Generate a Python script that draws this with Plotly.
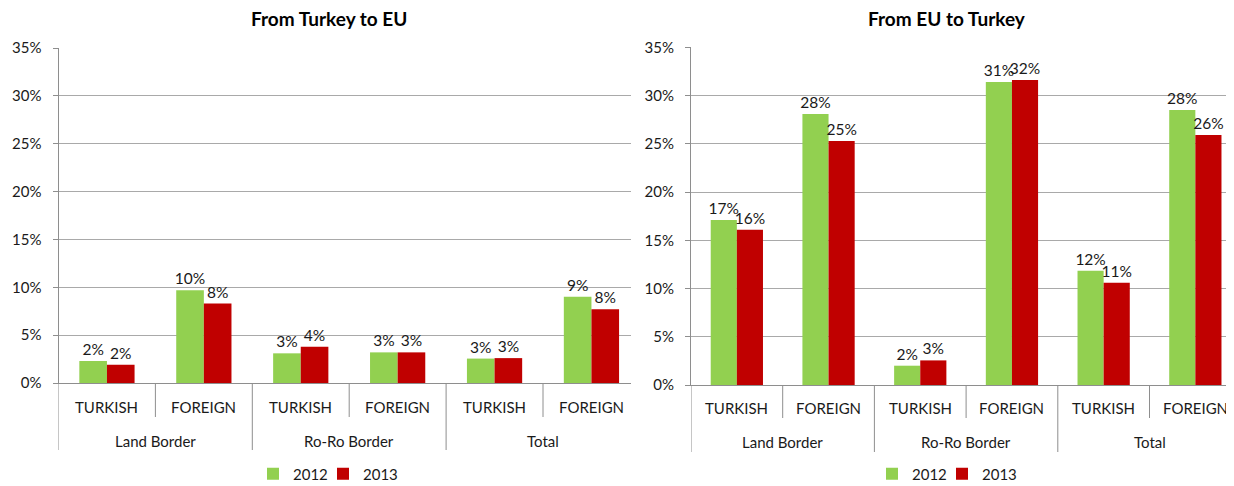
import plotly.graph_objects as go

# ---- data ----
groups = ["Land Border", "Ro-Ro Border", "Total"]
subcats = ["TURKISH", "FOREIGN"]
years = ["2012", "2013"]
titles = ["From Turkey to EU", "From EU to Turkey"]

tr_to_eu_2012 = [0.023, 0.097, 0.031, 0.032, 0.0255, 0.090]
tr_to_eu_2013 = [0.019, 0.083, 0.038, 0.032, 0.026, 0.077]
eu_to_tr_2012 = [0.171, 0.281, 0.020, 0.314, 0.1185, 0.285]
eu_to_tr_2013 = [0.161, 0.253, 0.0255, 0.316, 0.106, 0.259]

series = [[tr_to_eu_2012, tr_to_eu_2013], [eu_to_tr_2012, eu_to_tr_2013]]
colors = ["#92D050", "#C00000"]

OFF = 8  # page body margin
W, H = 1234 - OFF, 486 - OFF
FONT = "Lato"
TXT = "#1a1a1a"
GRID = "#a9a9a9"
AXIS = "#8e8e8e"


def px_x(p):
    return (p - OFF) / W


def px_y(p):
    return 1 - (p - OFF) / H


cats = [f"{g}|{s}" for g in groups for s in subcats]
xs = list(range(len(cats)))

# per-panel geometry (page pixels)
panels = [
    dict(x0=58.5, x1=631, catw=96.9, ytop=48, ybot=383, lab=407, grp=441, sep_short=417, sep_long=450,
         title_x=328.5, leg_pairs=[297, 367]),
    dict(x0=691, x1=1234, catw=91.7, ytop=47.3, ybot=385, lab=408, grp=442, sep_short=418, sep_long=452,
         title_x=946.5, leg_pairs=[916, 986]),
]

fig = go.Figure()
shapes = []
annotations = []
layout = {}
leg_n = 0

for i, p in enumerate(panels):
    sfx = "" if i == 0 else str(i + 1)
    xa, ya = "x" + sfx, "y" + sfx
    for j, yr in enumerate(years):
        leg_n += 1
        leg = "legend" if leg_n == 1 else f"legend{leg_n}"
        fig.add_trace(go.Bar(
            x=xs, y=series[i][j], name=yr, xaxis=xa, yaxis=ya,
            marker=dict(color=colors[j], line=dict(width=0)),
            texttemplate="%{y:.0%}", textposition="outside", constraintext="none",
            textfont=dict(family=FONT, size=15.5, color=TXT), cliponaxis=False,
            legend=leg, hoverinfo="skip",
        ))
        layout[leg] = dict(orientation="h", x=px_x(p["leg_pairs"][j] - 44), xanchor="left",
                           y=px_y(474), yanchor="middle", font=dict(family=FONT, size=15, color=TXT),
                           bgcolor="rgba(0,0,0,0)", itemwidth=30, tracegroupgap=0)
    span = (p["x1"] - p["x0"]) / p["catw"]
    layout["xaxis" + sfx] = dict(
        domain=[px_x(p["x0"]), px_x(p["x1"])], range=[-0.5, -0.5 + span], anchor=ya,
        showgrid=False, zeroline=False, showticklabels=False, ticks="",
        showline=True, linecolor=AXIS, linewidth=1, fixedrange=True,
    )
    layout["yaxis" + sfx] = dict(
        domain=[px_y(p["ybot"]), px_y(p["ytop"])], range=[0, 0.35], dtick=0.05, tickformat=".0%",
        anchor=xa, showgrid=True, gridcolor=GRID, gridwidth=1, zeroline=False,
        showline=True, linecolor=AXIS, linewidth=1, ticks="outside", ticklen=5, tickcolor=AXIS,
        ticklabelstandoff=8, tickfont=dict(family=FONT, size=15, color=TXT), automargin=False,
        fixedrange=True,
    )
    # extend y-axis line through the label area
    shapes.append(dict(type="line", xref=xa, yref="paper", x0=-0.5, x1=-0.5,
                       y0=px_y(p["ybot"]), y1=px_y(p["sep_long"]), line=dict(color=AXIS, width=1)))
    # category separators
    for k in range(1, len(cats)):
        long = (k % len(subcats) == 0)
        shapes.append(dict(type="line", xref=xa, yref="paper", x0=k - 0.5, x1=k - 0.5,
                           y0=px_y(p["ybot"]), y1=px_y(p["sep_long"] if long else p["sep_short"]),
                           line=dict(color=AXIS, width=1)))
    # category labels
    for k, c in enumerate(cats):
        annotations.append(dict(xref=xa, yref="paper", x=k, y=px_y(p["lab"]), text=c.split("|")[1],
                                showarrow=False, xanchor="center", yanchor="middle",
                                font=dict(family=FONT, size=15, color=TXT)))
    for g, gname in enumerate(groups):
        annotations.append(dict(xref=xa, yref="paper", x=g * len(subcats) + (len(subcats) - 1) / 2,
                                y=px_y(p["grp"]), text=gname, showarrow=False,
                                xanchor="center", yanchor="middle",
                                font=dict(family=FONT, size=15, color=TXT)))
    # title
    annotations.append(dict(xref="paper", yref="paper", x=px_x(p["title_x"]), y=px_y(18),
                            text="<b>" + titles[i] + "</b>", showarrow=False,
                            xanchor="center", yanchor="middle", borderpad=0,
                            font=dict(family=FONT, size=19, color="#000000")))

fig.update_layout(
    width=W, height=H, margin=dict(l=0, r=0, t=0, b=0, autoexpand=False),
    paper_bgcolor="white", plot_bgcolor="white",
    barmode="group", bargap=0.43, bargroupgap=0,
    shapes=shapes, annotations=annotations, showlegend=True,
    font=dict(family=FONT, size=15, color=TXT),
    **layout,
)

fig.write_html("out.html", config={"displayModeBar": False})
